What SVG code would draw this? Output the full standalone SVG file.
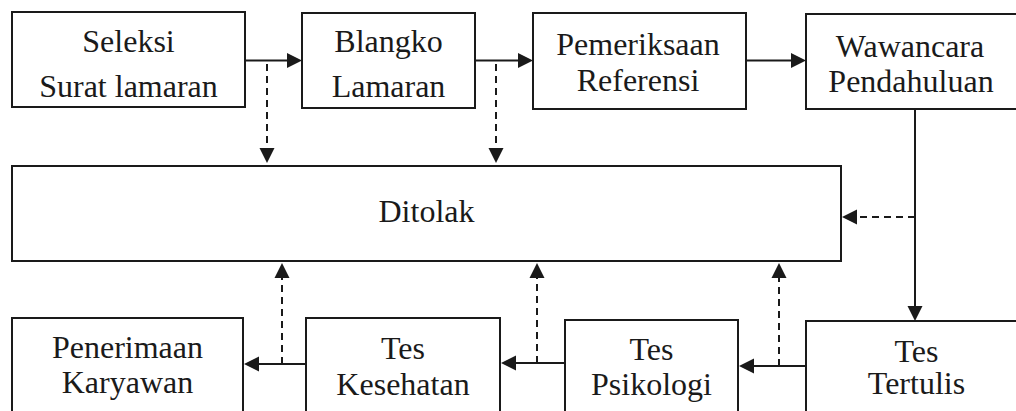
<svg xmlns="http://www.w3.org/2000/svg" width="1016" height="411" viewBox="0 0 1016 411">
<style>
.box{fill:#fff;stroke:#1a1a1a;stroke-width:2}
.t{font-family:"Liberation Serif",Tinos,"Times New Roman",Times,serif;font-size:32px;fill:#1a1a1a;text-anchor:middle}
.ln{fill:none;stroke:#1a1a1a;stroke-width:2}
.dash{fill:none;stroke:#1a1a1a;stroke-width:2;stroke-dasharray:7,5}
.ah{fill:#1a1a1a;stroke:none}
</style>
<rect width="1016" height="411" fill="#fff"/>
<g id="n1"><rect class="box" x="12" y="12" width="233" height="95"/><text class="t" x="128.5" y="52">Seleksi</text><text class="t" x="128.5" y="96.5">Surat lamaran</text></g>
<g id="n2"><rect class="box" x="302" y="13" width="173" height="95"/><text class="t" x="388.5" y="52">Blangko</text><text class="t" x="388.5" y="96.5">Lamaran</text></g>
<g id="n3"><rect class="box" x="533" y="13" width="213" height="96"/><text class="t" x="638" y="55">Pemeriksaan</text><text class="t" x="638" y="91">Referensi</text></g>
<g id="n4"><rect class="box" x="806" y="14" width="230" height="95"/><text class="t" x="910" y="56.5">Wawancara</text><text class="t" x="911" y="91.5">Pendahuluan</text></g>
<g id="n5"><rect class="box" x="12" y="166" width="829" height="95"/><text class="t" x="426.5" y="222">Ditolak</text></g>
<g id="n6"><rect class="box" x="12" y="318" width="231" height="110"/><text class="t" x="127.5" y="358">Penerimaan</text><text class="t" x="127.5" y="393">Karyawan</text></g>
<g id="n7"><rect class="box" x="306" y="318" width="194" height="110"/><text class="t" x="403" y="359">Tes</text><text class="t" x="403" y="395">Kesehatan</text></g>
<g id="n8"><rect class="box" x="565" y="320" width="173" height="110"/><text class="t" x="651.5" y="360">Tes</text><text class="t" x="651.5" y="395">Psikologi</text></g>
<g id="n9"><rect class="box" x="806" y="321" width="230" height="110"/><text class="t" x="916.5" y="361.5">Tes</text><text class="t" x="916.5" y="394">Tertulis</text></g>
<g id="connectors">
<line class="ln" x1="245" y1="60.5" x2="290" y2="60.5"/><path class="ah" d="M302,60.5 L287,53 L287,68 Z"/>
<line class="ln" x1="475" y1="60.5" x2="521" y2="60.5"/><path class="ah" d="M533,60.5 L518,53 L518,68 Z"/>
<line class="ln" x1="746" y1="60.5" x2="794" y2="60.5"/><path class="ah" d="M806,60.5 L791,53 L791,68 Z"/>
<line class="dash" x1="267" y1="64" x2="267" y2="150"/><path class="ah" d="M267,163 L259.5,148 L274.5,148 Z"/>
<line class="dash" x1="496" y1="64" x2="496" y2="150"/><path class="ah" d="M496,163 L488.5,148 L503.5,148 Z"/>
<line class="ln" x1="915" y1="109" x2="915" y2="310"/><path class="ah" d="M915,321 L907.5,306 L922.5,306 Z"/>
<line class="dash" x1="915" y1="217" x2="855" y2="217"/><path class="ah" d="M842,217 L857,209.5 L857,224.5 Z"/>
<line class="ln" x1="806" y1="366" x2="750" y2="366"/><path class="ah" d="M739,366 L754,358.5 L754,373.5 Z"/>
<line class="ln" x1="565" y1="363" x2="512" y2="363"/><path class="ah" d="M501,363 L516,355.5 L516,370.5 Z"/>
<line class="ln" x1="306" y1="364" x2="255" y2="364"/><path class="ah" d="M244,364 L259,356.5 L259,371.5 Z"/>
<line class="dash" x1="779" y1="366" x2="779" y2="276"/><path class="ah" d="M779,263 L771.5,278 L786.5,278 Z"/>
<line class="dash" x1="537" y1="363" x2="537" y2="276"/><path class="ah" d="M537,263 L529.5,278 L544.5,278 Z"/>
<line class="dash" x1="282" y1="364" x2="282" y2="276"/><path class="ah" d="M282,263 L274.5,278 L289.5,278 Z"/>
</g>
</svg>
